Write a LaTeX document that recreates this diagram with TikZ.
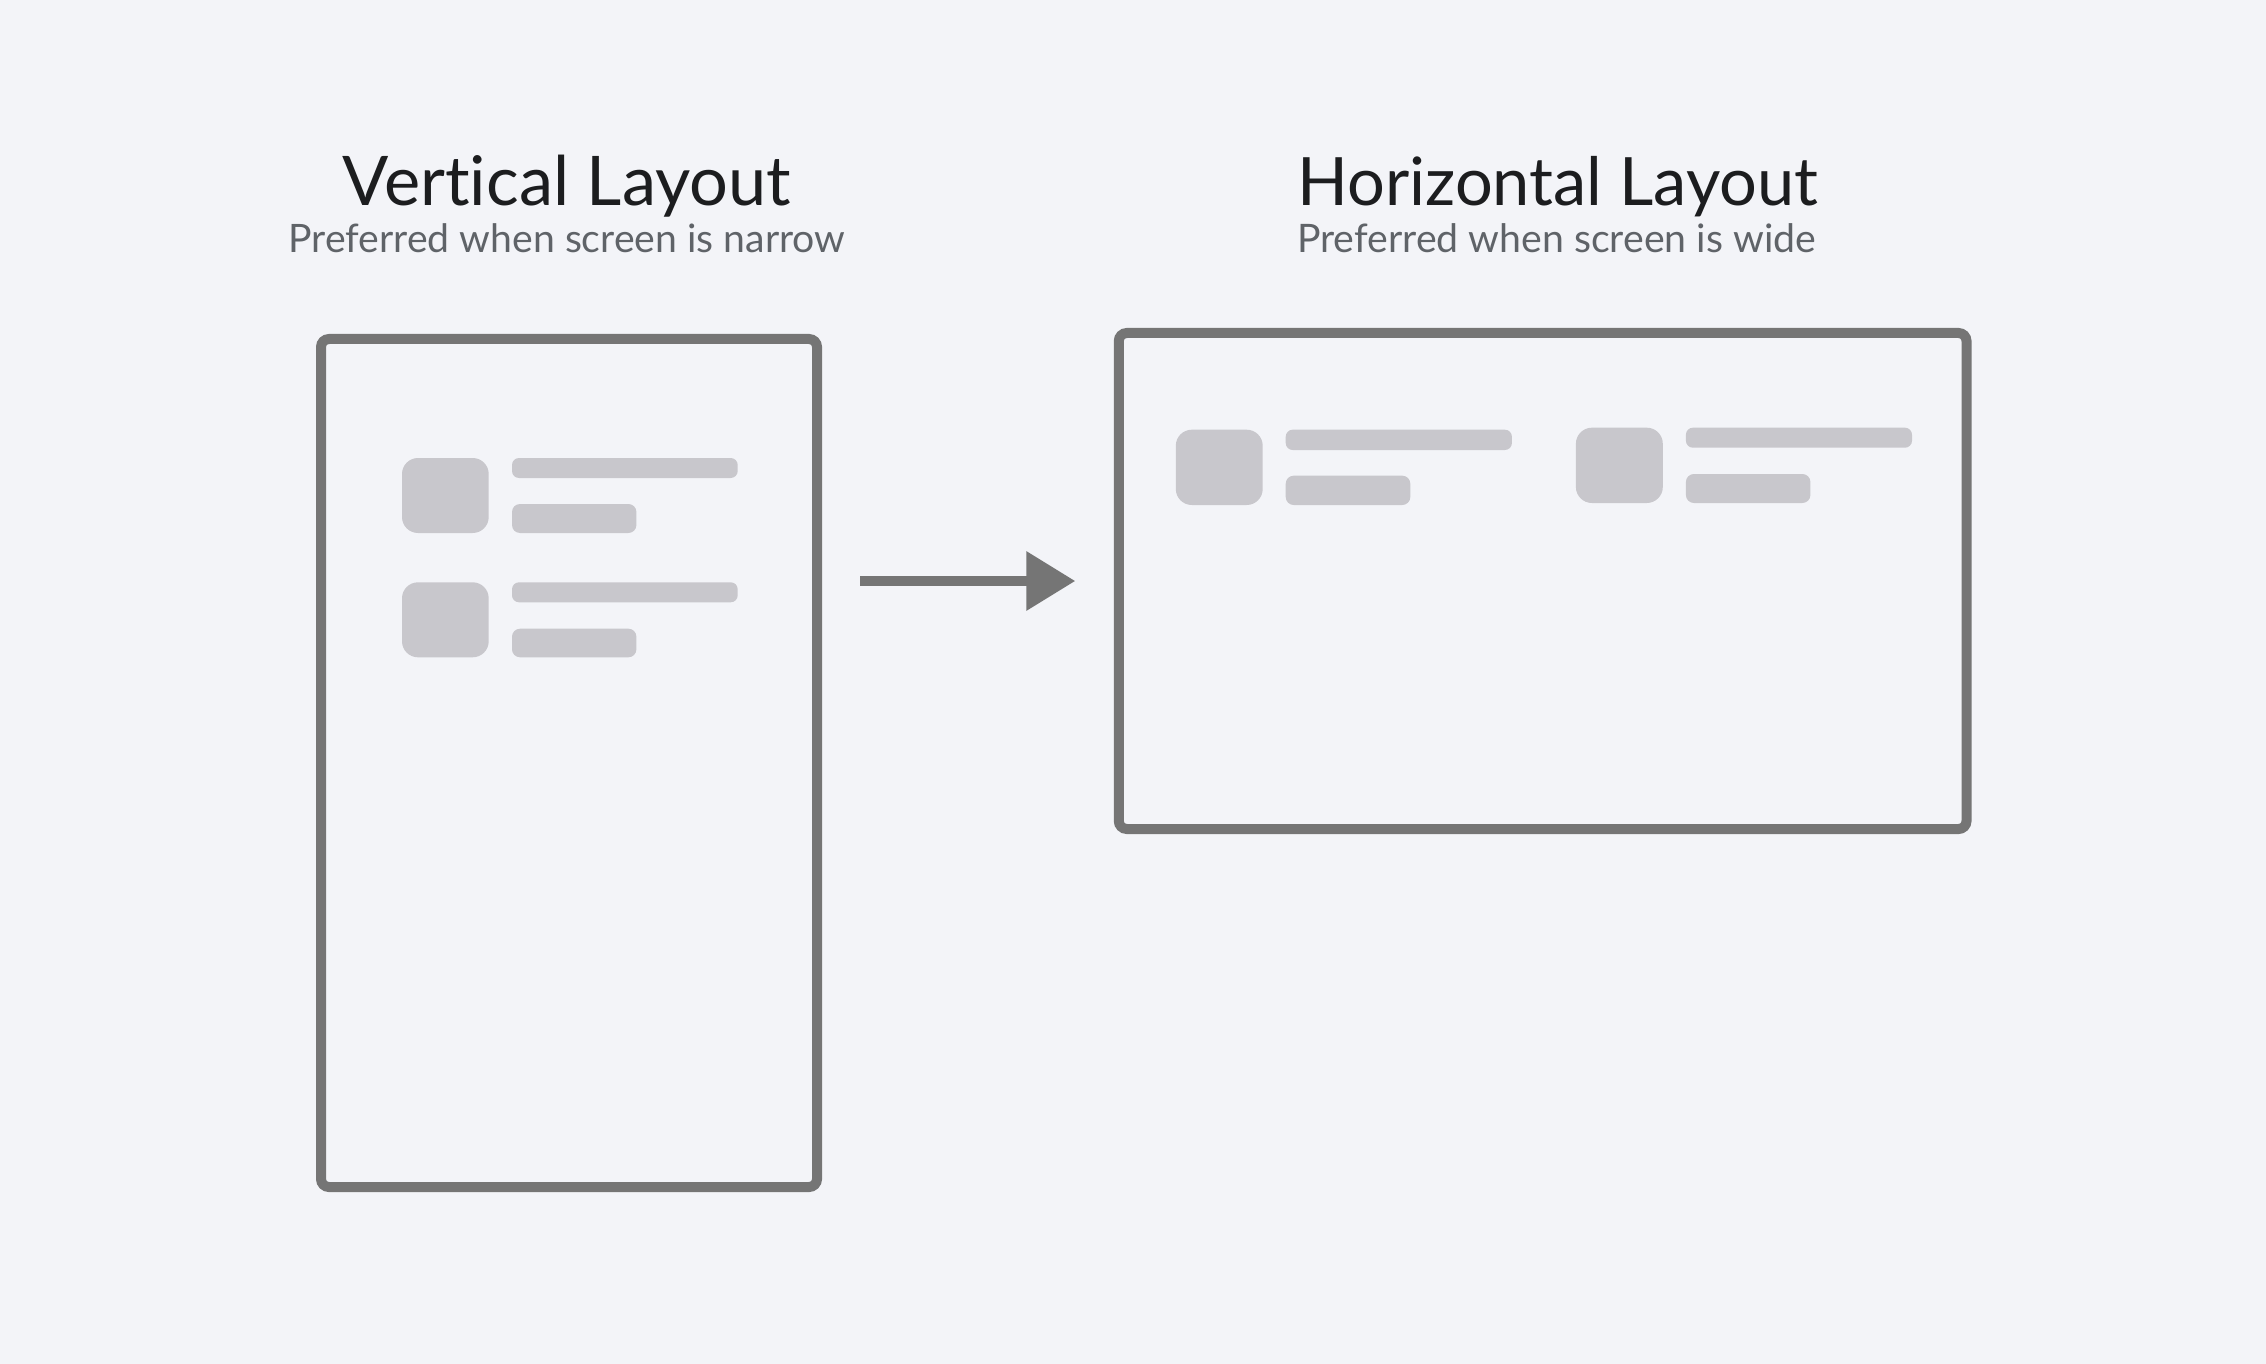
\documentclass[tikz,border=0pt]{standalone}
\usepackage{fontspec}
\setmainfont{Lato}[Ligatures=NoCommon]
\usetikzlibrary{arrows.meta}
\definecolor{bgcol}{RGB}{243,244,248}
\definecolor{framecol}{RGB}{117,117,117}
\definecolor{phcol}{RGB}{200,199,204}
\definecolor{titlecol}{RGB}{28,29,31}
\definecolor{subcol}{RGB}{95,99,104}
\tikzset{
  frame/.style={draw=framecol, line width=5pt, rounded corners=4pt, inner sep=0pt},
  titletext/.style={anchor=base, inner sep=0pt, text=titlecol},
  subtext/.style={anchor=base, inner sep=0pt, text=subcol},
  sq/.style={fill=phcol, rounded corners=8pt},
  thinbar/.style={fill=phcol, rounded corners=3.5pt},
  thickbar/.style={fill=phcol, rounded corners=4pt},
  arrowline/.style={draw=framecol, line width=5pt, -{Triangle[length=24.5pt,width=28.5pt]}}
}
\begin{document}
\begin{tikzpicture}[x=0.5pt,y=-0.5pt]
\fill[bgcol] (0,0) rectangle (2266,1364);
\useasboundingbox (0,0) rectangle (2266,1364);

% titles
\node[titletext] (vtitle) at (567,206) {\resizebox{224pt}{!}{Vertical Layout}};
\node[subtext] (vsub) at (567,252.7) {\resizebox{278.5pt}{!}{Preferred when screen is narrow}};
\node[titletext] (htitle) at (1558,206) {\resizebox{260.5pt}{!}{Horizontal Layout}};
\node[subtext] (hsub) at (1556.7,252.7) {\resizebox{259.5pt}{!}{Preferred when screen is wide}};

% frames
\node[frame, minimum width=248pt, minimum height=424pt] (vframe) at (569,763) {};
\node[frame, minimum width=423.85pt, minimum height=248pt] (hframe) at (1542.65,581) {};

% arrow
\draw[arrowline, shorten <=19pt, shorten >=19.25pt] (vframe.east |- hframe.west) -- (hframe.west);

% vertical placeholders
\fill[sq] (402,458) rectangle (488.7,533);
\fill[thinbar] (512,458) rectangle (737.7,478);
\fill[thickbar] (512,504) rectangle (636.4,533);
\fill[sq] (402,582.3) rectangle (488.7,657.3);
\fill[thinbar] (512,582.3) rectangle (737.7,602.3);
\fill[thickbar] (512,628.7) rectangle (636.4,657.3);

% horizontal placeholders
\fill[sq] (1175.8,429.7) rectangle (1262.7,505);
\fill[thinbar] (1285.7,429.7) rectangle (1511.9,450);
\fill[thickbar] (1285.7,475.7) rectangle (1410.3,505);
\fill[sq] (1575.9,427.7) rectangle (1662.8,503);
\fill[thinbar] (1685.9,427.7) rectangle (1912,447.7);
\fill[thickbar] (1685.9,474) rectangle (1810.4,503);
\end{tikzpicture}
\end{document}
